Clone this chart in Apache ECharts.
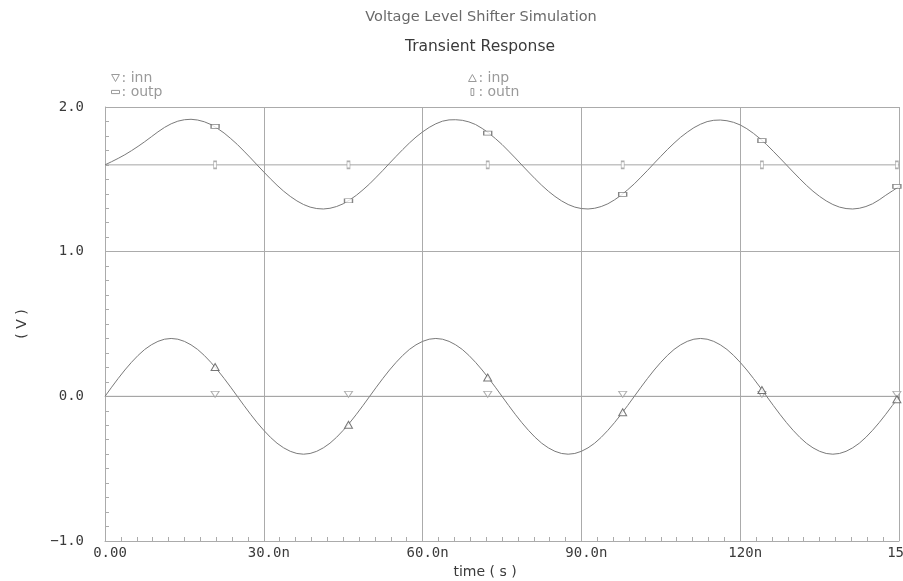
<!DOCTYPE html>
<html>
<head>
<meta charset="utf-8">
<script src="https://cdn.jsdelivr.net/npm/echarts@6/dist/echarts.min.js"></script>
<style>
  html, body { margin: 0; padding: 0; background: #ffffff; }
  #chart { width: 903px; height: 581px; }
</style>
</head>
<body>
<div id="chart"></div>
<script>
// Sample times (ns) for the two sinusoidal traces
const timeNs = [
  0, 1.25, 2.5, 3.75, 5, 6.25, 7.5, 8.75, 10, 11.25,
  12.5, 13.75, 15, 16.25, 17.5, 18.75, 20, 21.25, 22.5, 23.75,
  25, 26.25, 27.5, 28.75, 30, 31.25, 32.5, 33.75, 35, 36.25,
  37.5, 38.75, 40, 41.25, 42.5, 43.75, 45, 46.25, 47.5, 48.75,
  50, 51.25, 52.5, 53.75, 55, 56.25, 57.5, 58.75, 60, 61.25,
  62.5, 63.75, 65, 66.25, 67.5, 68.75, 70, 71.25, 72.5, 73.75,
  75, 76.25, 77.5, 78.75, 80, 81.25, 82.5, 83.75, 85, 86.25,
  87.5, 88.75, 90, 91.25, 92.5, 93.75, 95, 96.25, 97.5, 98.75,
  100, 101.25, 102.5, 103.75, 105, 106.25, 107.5, 108.75, 110, 111.25,
  112.5, 113.75, 115, 116.25, 117.5, 118.75, 120, 121.25, 122.5, 123.75,
  125, 126.25, 127.5, 128.75, 130, 131.25, 132.5, 133.75, 135, 136.25,
  137.5, 138.75, 140, 141.25, 142.5, 143.75, 145, 146.25, 147.5, 148.75,
  150
];

// inp (V)
const inpV = [
  0.000, 0.063, 0.124, 0.182, 0.235, 0.283, 0.324, 0.356, 0.380, 0.395,
  0.400, 0.395, 0.380, 0.356, 0.324, 0.283, 0.235, 0.182, 0.124, 0.063,
  0.000, -0.063, -0.124, -0.182, -0.235, -0.283, -0.324, -0.356, -0.380, -0.395,
  -0.400, -0.395, -0.380, -0.356, -0.324, -0.283, -0.235, -0.182, -0.124, -0.063,
  0.000, 0.063, 0.124, 0.182, 0.235, 0.283, 0.324, 0.356, 0.380, 0.395,
  0.400, 0.395, 0.380, 0.356, 0.324, 0.283, 0.235, 0.182, 0.124, 0.063,
  0.000, -0.063, -0.124, -0.182, -0.235, -0.283, -0.324, -0.356, -0.380, -0.395,
  -0.400, -0.395, -0.380, -0.356, -0.324, -0.283, -0.235, -0.182, -0.124, -0.063,
  0.000, 0.063, 0.124, 0.182, 0.235, 0.283, 0.324, 0.356, 0.380, 0.395,
  0.400, 0.395, 0.380, 0.356, 0.324, 0.283, 0.235, 0.182, 0.124, 0.063,
  0.000, -0.063, -0.124, -0.182, -0.235, -0.283, -0.324, -0.356, -0.380, -0.395,
  -0.400, -0.395, -0.380, -0.356, -0.324, -0.283, -0.235, -0.182, -0.124, -0.063,
  -0.005
];

// outp (V)
const outpV = [
  1.600, 1.622, 1.645, 1.670, 1.698, 1.728, 1.760, 1.794, 1.828, 1.859,
  1.884, 1.902, 1.912, 1.915, 1.910, 1.898, 1.879, 1.852, 1.820, 1.782,
  1.741, 1.695, 1.648, 1.599, 1.551, 1.504, 1.459, 1.418, 1.382, 1.351,
  1.326, 1.308, 1.298, 1.295, 1.300, 1.312, 1.331, 1.358, 1.390, 1.428,
  1.469, 1.515, 1.562, 1.611, 1.659, 1.706, 1.751, 1.792, 1.828, 1.859,
  1.884, 1.902, 1.911, 1.912, 1.908, 1.897, 1.879, 1.852, 1.820, 1.782,
  1.741, 1.695, 1.648, 1.599, 1.551, 1.504, 1.459, 1.418, 1.382, 1.351,
  1.326, 1.308, 1.298, 1.295, 1.300, 1.312, 1.331, 1.358, 1.390, 1.428,
  1.469, 1.515, 1.562, 1.611, 1.659, 1.706, 1.750, 1.791, 1.826, 1.857,
  1.881, 1.899, 1.908, 1.910, 1.905, 1.894, 1.876, 1.850, 1.818, 1.781,
  1.740, 1.694, 1.647, 1.599, 1.551, 1.504, 1.459, 1.418, 1.382, 1.351,
  1.326, 1.308, 1.298, 1.295, 1.300, 1.312, 1.331, 1.358, 1.390, 1.420,
  1.450
];

// Flat traces
const levelTimes = [0, 150];
const innV = [0.0, 0.0];
const outnV = [1.6, 1.6];

// Marker positions along each trace
const markTimes = [20.8, 46.0, 72.3, 97.8, 124.1, 149.6];
const inpMarks  = [0.203, -0.196, 0.130, -0.110, 0.044, -0.020];
const outpMarks = [1.866, 1.352, 1.820, 1.396, 1.768, 1.452];
const innMarks  = [0.0, 0.0, 0.0, 0.0, 0.0, 0.0];
const outnMarks = [1.6, 1.6, 1.6, 1.6, 1.6, 1.6];

// Axis tick labels
const xTickValues = [0, 30, 60, 90, 120, 150];
const xTickLabels = ['0.00', '30.0n', '60.0n', '90.0n', '120n', '150n'];
const yTickValues = [-1, 0, 1, 2];
const yTickLabels = ['\u22121.0', '0.0', '1.0', '2.0'];

const pair = (xs, ys) => xs.map((x, i) => [x, ys[i]]);

const TRI_UP = 'path://M5,0L10,9L0,9Z';
const TRI_DOWN = 'path://M0,0L10,0L5,9Z';
const FLAT_RECT = 'path://M0,0H10V4H0Z';
const TALL_RECT = 'path://M0,0H4V10H0Z';

const traceColor = '#7a7a7a';
const flatColor = '#a6a6a6';
const gridColor = '#ababab';
const monoFont = '"DejaVu Sans Mono", "Liberation Mono", monospace';
const sansFont = '"DejaVu Sans", "Liberation Sans", sans-serif';

const chart = echarts.init(document.getElementById('chart'), null, { renderer: 'canvas' });

function markerSeries(name, xs, ys, symbol, size, border, offset) {
  return {
    name: name,
    type: 'scatter',
    data: pair(xs, ys),
    symbol: symbol,
    symbolSize: size,
    symbolOffset: offset || [0, 0],
    itemStyle: { color: '#ffffff', borderColor: border, borderWidth: 1 },
    silent: true,
    z: 5
  };
}

function lineSeries(name, xs, ys, color) {
  return {
    name: name,
    type: 'line',
    data: pair(xs, ys),
    showSymbol: false,
    smooth: false,
    lineStyle: { color: color, width: 1 },
    itemStyle: { color: color },
    silent: true,
    z: 3
  };
}

const legendText = { color: '#9a9a9a', fontSize: 14, fontFamily: sansFont, padding: [0, 0, 0, -3] };
const legendIconStyle = { color: '#ffffff', borderColor: '#9a9a9a', borderWidth: 1 };

chart.setOption({
  backgroundColor: '#ffffff',
  animation: false,
  graphic: [
    {
      type: 'text', x: 481, y: 17,
      style: { text: 'Voltage Level Shifter Simulation', align: 'center', verticalAlign: 'middle',
               fill: '#6a6a6a', font: '14.5px ' + sansFont }
    },
    {
      type: 'text', x: 480, y: 47,
      style: { text: 'Transient Response', align: 'center', verticalAlign: 'middle',
               fill: '#3a3a3a', font: '15.5px ' + sansFont }
    }
  ],
  legend: [
    {
      left: 106, top: 66, orient: 'vertical', itemGap: 0,
      itemWidth: 8, itemHeight: 7, selectedMode: false,
      formatter: n => ': ' + n,
      textStyle: legendText,
      data: [
        { name: 'inn', icon: TRI_DOWN, itemStyle: legendIconStyle },
        { name: 'outp', icon: FLAT_RECT, itemStyle: legendIconStyle }
      ]
    },
    {
      left: 463, top: 66, orient: 'vertical', itemGap: 0,
      itemWidth: 8, itemHeight: 7, selectedMode: false,
      formatter: n => ': ' + n,
      textStyle: legendText,
      data: [
        { name: 'inp', icon: TRI_UP, itemStyle: legendIconStyle },
        { name: 'outn', icon: TALL_RECT, itemStyle: legendIconStyle }
      ]
    }
  ],
  grid: { left: 105, right: 4, top: 107, bottom: 40, show: false, containLabel: false, outerBoundsMode: 'none' },
  xAxis: {
    type: 'value', min: 0, max: 150, interval: 30,
    name: 'time ( s )', nameLocation: 'middle', nameGap: 21,
    nameTextStyle: { color: '#3a3a3a', fontSize: 14, fontFamily: sansFont, padding: [0, 34, 0, 0] },
    axisLine: { show: true, onZero: false, lineStyle: { color: gridColor, width: 1 } },
    axisTick: { show: true, inside: true, length: 4, lineStyle: { color: gridColor } },
    minorTick: { show: true, splitNumber: 10, length: 4, lineStyle: { color: gridColor } },
    splitLine: { show: true, lineStyle: { color: gridColor, width: 1 } },
    axisLabel: {
      color: '#3a3a3a', fontSize: 14, fontFamily: monoFont, margin: 5,
      padding: [0, 0, 0, 10],
      showMaxLabel: true, hideOverlap: false,
      formatter: v => { const i = xTickValues.indexOf(v); return i >= 0 ? xTickLabels[i] : ''; }
    }
  },
  yAxis: {
    type: 'value', min: -1, max: 2, interval: 1,
    name: '( V )', nameLocation: 'middle', nameGap: 76, nameRotate: 90,
    nameTextStyle: { color: '#3a3a3a', fontSize: 14, fontFamily: sansFont },
    axisLine: { show: true, onZero: false, lineStyle: { color: gridColor, width: 1 } },
    axisTick: { show: true, inside: true, length: 4, lineStyle: { color: gridColor } },
    minorTick: { show: true, splitNumber: 10, length: 4, lineStyle: { color: gridColor } },
    splitLine: { show: true, lineStyle: { color: gridColor, width: 1 } },
    axisLabel: {
      color: '#3a3a3a', fontSize: 14, fontFamily: monoFont, margin: 21,
      verticalAlign: 'middle', padding: [0, 0, 11, 0],
      formatter: v => { const i = yTickValues.indexOf(v); return i >= 0 ? yTickLabels[i] : ''; }
    }
  },
  series: [
    lineSeries('inn', levelTimes, innV, flatColor),
    lineSeries('outn', levelTimes, outnV, flatColor),
    lineSeries('outp', timeNs, outpV, traceColor),
    lineSeries('inp', timeNs, inpV, traceColor),
    markerSeries('inn', markTimes, innMarks, TRI_DOWN, [8, 6], '#9a9a9a', [0, -2]),
    markerSeries('outn', markTimes, outnMarks, 'rect', [3, 7], '#9a9a9a'),
    markerSeries('outp', markTimes, outpMarks, 'rect', [8, 4], '#666666'),
    markerSeries('inp', markTimes, inpMarks, TRI_UP, [8, 7], '#555555')
  ]
});
</script>
</body>
</html>
